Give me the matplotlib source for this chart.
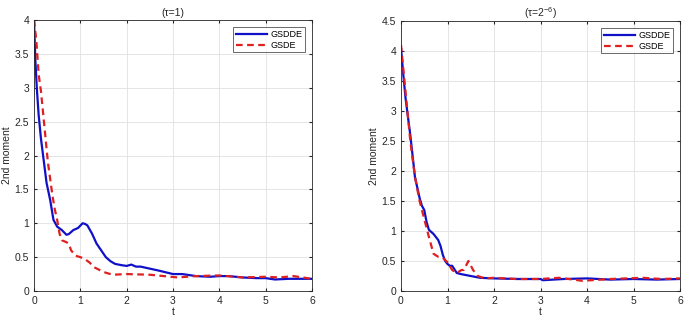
import matplotlib
matplotlib.use("Agg")
import matplotlib.pyplot as plt

plt.rcParams['font.family'] = ['Liberation Sans', 'DejaVu Sans']
plt.rcParams['mathtext.fontset'] = 'custom'
plt.rcParams['mathtext.rm'] = 'Liberation Sans'
plt.rcParams['mathtext.it'] = 'Liberation Sans:italic'

# Left panel (tau = 1)
t1_gsdde = [0, 0.03, 0.06, 0.1, 0.15, 0.2, 0.27, 0.35, 0.42, 0.5, 0.6, 0.7, 0.75, 0.8, 0.85, 0.95,
            1.05, 1.1, 1.15, 1.25, 1.35, 1.45, 1.55, 1.65, 1.75, 1.9, 2.0, 2.1, 2.2, 2.3, 2.5, 2.7,
            3.0, 3.2, 3.5, 3.8, 4.0, 4.2, 4.5, 4.8, 5.0, 5.2, 5.5, 5.8, 6.0]
v1_gsdde = [4.0, 3.4, 3.0, 2.6, 2.25, 1.98, 1.6, 1.34, 1.05, 0.95, 0.9, 0.83, 0.84, 0.87, 0.9, 0.93,
            1.0, 0.99, 0.97, 0.85, 0.7, 0.6, 0.5, 0.44, 0.4, 0.38, 0.37, 0.39, 0.36, 0.36, 0.33, 0.3,
            0.25, 0.25, 0.22, 0.21, 0.22, 0.22, 0.2, 0.19, 0.19, 0.17, 0.18, 0.18, 0.18]
t1_gsde = [0, 0.05, 0.1, 0.15, 0.2, 0.25, 0.3, 0.35, 0.4, 0.45, 0.5, 0.55, 0.6, 0.7, 0.75, 0.8,
           0.9, 1.0, 1.1, 1.2, 1.3, 1.5, 1.7, 2.0, 2.5, 2.8, 3.1, 3.5, 4.0, 4.5, 5.0, 5.3, 5.6, 6.0]
v1_gsde = [4.0, 3.7, 3.2, 2.95, 2.6, 2.25, 1.9, 1.65, 1.4, 1.2, 1.05, 0.85, 0.75, 0.72, 0.7, 0.6,
           0.52, 0.5, 0.47, 0.42, 0.35, 0.28, 0.24, 0.25, 0.24, 0.22, 0.2, 0.22, 0.23, 0.2, 0.21, 0.2, 0.22, 0.18]

# Right panel (tau = 2^-6)
t2_gsdde = [0, 0.05, 0.1, 0.2, 0.3, 0.4, 0.45, 0.5, 0.55, 0.6, 0.7, 0.75, 0.8, 0.85, 0.9, 0.95,
            1.0, 1.05, 1.1, 1.15, 1.2, 1.3, 1.5, 1.7, 2.0, 2.5, 3.0, 3.05, 3.5, 4.0, 4.5, 5.0, 5.5, 6.0]
v2_gsdde = [4.05, 3.6, 3.2, 2.6, 1.9, 1.55, 1.42, 1.35, 1.15, 1.02, 0.95, 0.9, 0.85, 0.75, 0.6, 0.5,
            0.45, 0.42, 0.42, 0.36, 0.3, 0.28, 0.25, 0.22, 0.21, 0.2, 0.2, 0.18, 0.2, 0.21, 0.19, 0.2, 0.19, 0.2]
t2_gsde = [0, 0.05, 0.1, 0.2, 0.3, 0.4, 0.5, 0.6, 0.7, 0.8, 0.9, 1.0, 1.1, 1.2, 1.3, 1.35, 1.45,
           1.55, 1.65, 1.8, 2.0, 2.5, 3.0, 3.4, 3.9, 4.5, 5.2, 5.6, 6.0]
v2_gsde = [4.1, 3.7, 3.3, 2.5, 1.9, 1.5, 1.2, 0.9, 0.62, 0.57, 0.55, 0.48, 0.35, 0.3, 0.35, 0.35, 0.5,
           0.35, 0.25, 0.21, 0.22, 0.2, 0.2, 0.22, 0.17, 0.2, 0.22, 0.2, 0.21]

titles = ['(τ=1)', '(τ=2$^{-6}$)']
ylims = [4, 4.5]
yticks = [[0, 0.5, 1, 1.5, 2, 2.5, 3, 3.5, 4], [0, 0.5, 1, 1.5, 2, 2.5, 3, 3.5, 4, 4.5]]
xticks = [0, 1, 2, 3, 4, 5, 6]

fig = plt.figure(figsize=(6.85, 3.23), dpi=100)
ax1 = fig.add_axes([34/685, 1-291/323, (312-34)/685, (291-20)/323])
ax2 = fig.add_axes([401/685, 1-291/323, (680-401)/685, (291-21)/323])

data = [(t1_gsdde, v1_gsdde, t1_gsde, v1_gsde), (t2_gsdde, v2_gsdde, t2_gsde, v2_gsde)]
for i, ax in enumerate([ax1, ax2]):
    tb, vb, tr, vr = data[i]
    ax.plot(tb, vb, color='#1010c8', lw=1.6, label='GSDDE')
    ax.plot(tr, vr, color='#e02020', lw=1.6, ls=(0, (3, 2)), label='GSDE')
    ax.set_xlim(0, 6)
    ax.set_ylim(0, ylims[i])
    ax.set_xticks(xticks)
    ax.set_yticks(yticks[i])
    ax.set_yticklabels([('%g' % v) for v in yticks[i]])
    ax.grid(True, color='#e0e0e0', lw=0.6)
    ax.set_axisbelow(True)
    ax.tick_params(labelsize=7.5, colors='#262626', length=2, direction='in', top=True, right=True)
    for s in ax.spines.values():
        s.set_color('#262626')
        s.set_linewidth(0.6)
    ax.set_xlabel('t', fontsize=7.5, labelpad=1, color='#262626')
    ax.set_ylabel('2nd moment', fontsize=7.5, labelpad=2, color='#262626')
    ax.set_title(titles[i], fontsize=7.5, pad=3, color='#262626')
    leg = ax.legend(loc='upper right', fontsize=6.5, frameon=True, fancybox=False,
                    edgecolor='#262626', handlelength=3.5, borderpad=0.3, labelspacing=0.2,
                    handletextpad=0.3, borderaxespad=0.8)
    leg.get_frame().set_linewidth(0.6)

fig.savefig('out.png', dpi=100, facecolor='white')
